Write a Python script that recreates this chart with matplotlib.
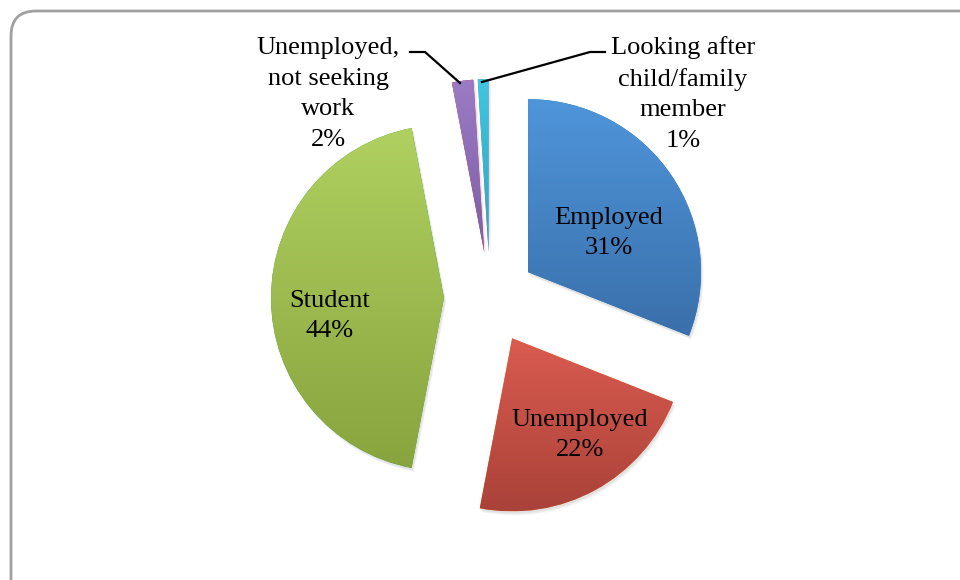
import numpy as np
import matplotlib.pyplot as plt
from matplotlib.patches import FancyBboxPatch, Wedge
from matplotlib.colors import LinearSegmentedColormap

# ---- data ----
labels = ["Employed", "Unemployed", "Student", "Unemployed,\nnot seeking\nwork", "Looking after\nchild/family\nmember"]
values = [31, 22, 44, 2, 1]
top_colors = ["#4F95DA", "#DA5B50", "#B0D060", "#9B7BC4", "#40C6E0"]
bottom_colors = ["#3A70AB", "#AA4239", "#88A43E", "#7D5FA6", "#2DA6BE"]

# label centres in pixel space (x, y from top)
label_pos = [(609, 233), (580, 435), (330, 316), (328, 94), (683, 94)]

W, H = 960, 580
cx, cy, R = 490, H - 298, 173
gap = 46  # explode distance, in pixels

plt.rcParams['font.family'] = ['Liberation Serif', 'DejaVu Serif']

fig = plt.figure(figsize=(9.6, 5.8), dpi=100)
ax = fig.add_axes([0, 0, 1, 1])

wedges, _ = ax.pie(values, startangle=90, counterclock=False, radius=R, center=(cx, cy),
                   explode=[gap] * len(values), frame=True,
                   wedgeprops=dict(linewidth=0))

# soft shadow + vertical gradient fill for every slice
for i, w in enumerate(wedges):
    for off in [4, 3, 2]:
        sh = Wedge((w.center[0] + off * 0.6, w.center[1] - off), w.r, w.theta1, w.theta2,
                   facecolor="#000000", alpha=0.04, linewidth=0, zorder=0.5)
        ax.add_patch(sh)
    w.set_zorder(1)
    ext = w.get_path().get_extents()
    cmap = LinearSegmentedColormap.from_list("g%d" % i, [bottom_colors[i], top_colors[i]])
    grad = np.linspace(0, 1, 256).reshape(-1, 1)
    im = ax.imshow(grad, cmap=cmap, origin="lower", aspect="auto",
                   extent=(ext.x0, ext.x1, ext.y0, ext.y1), zorder=2)
    im.set_clip_path(w)

for i, (px, py) in enumerate(label_pos):
    ax.text(px, H - py, "%s\n%d%%" % (labels[i], values[i]), ha="center", va="center",
            fontsize=19, linespacing=1.5, color="black", zorder=5)

# leader lines for the two thin slices
ax.plot([410, 425, 460], [H - 52, H - 52, H - 83], color="black", lw=1.6, zorder=5)
ax.plot([482, 590, 605], [H - 82, H - 52, H - 52], color="black", lw=1.6, zorder=5)

# rounded outer frame
frame = FancyBboxPatch((11, -40), 990, 609, boxstyle="round,pad=0,rounding_size=25",
                       facecolor="none", edgecolor="#A0A0A0", linewidth=2, clip_on=False, zorder=6)
ax.add_patch(frame)

ax.set_xlim(0, W)
ax.set_ylim(0, H)
ax.set_aspect("equal")
ax.axis("off")

fig.savefig("out.png", dpi=100)
